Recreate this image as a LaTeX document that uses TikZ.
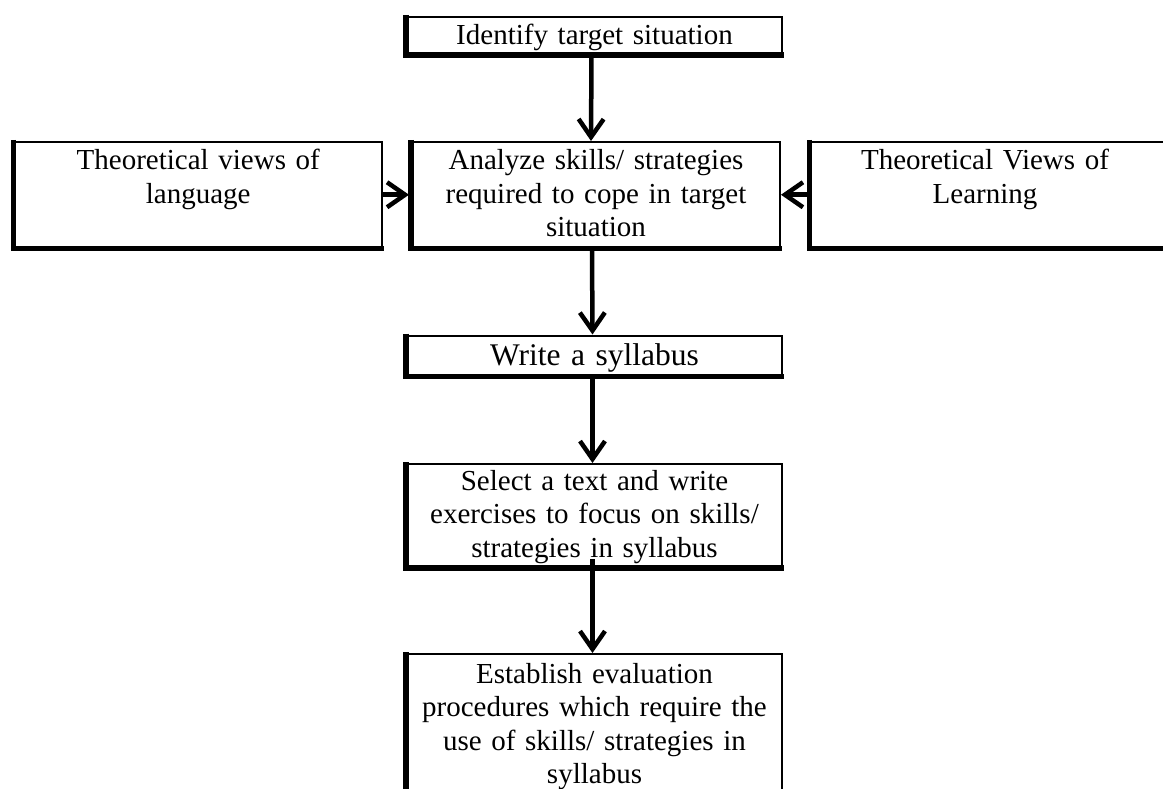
\documentclass[tikz,border=0pt]{standalone}
\usepackage{fontspec}
\setmainfont{Liberation Serif}
\usetikzlibrary{arrows.meta}
\begin{document}
\begin{tikzpicture}[x=1pt,y=-1pt,
  box/.style={draw, line width=2pt, inner sep=0pt, fill=none},
  thickedge/.style={line width=5.5pt, line cap=butt},
  txt/.style={inner sep=0pt, anchor=base, align=center, text width=360pt, font=\fontsize{29}{33.5}\selectfont},
  flow/.style={line width=4.5pt, -{Straight Barb[length=18pt,width=25pt,line join=miter]}}
]
\useasboundingbox (0,0) rectangle (1163,789);
\clip (0,0) rectangle (1163,789);
\fill[white] (0,0) rectangle (1163,789);

% boxes (edge midlines)
\node[box, minimum width=375pt, minimum height=37pt] (b1) at (594.5,35.5) {};
\node[box, minimum width=368pt, minimum height=105.5pt] (b2) at (596,194.75) {};
\node[box, minimum width=367.5pt, minimum height=105.5pt] (bl) at (198.25,194.75) {};
\node[box, minimum width=380pt, minimum height=105.5pt] (br) at (1000.5,194.75) {};
\node[box, minimum width=375pt, minimum height=40pt] (b3) at (594.5,355.5) {};
\node[box, minimum width=375pt, minimum height=103pt] (b4) at (594.5,515.5) {};
\node[box, minimum width=375pt, minimum height=200pt] (b5) at (594.5,754) {};

% thick left and bottom edges
\foreach \b in {b1,b2,bl,br,b3,b4,b5}{
  \draw[thickedge] ([yshift=1pt]\b.north west) -- (\b.south west) -- ([xshift=1pt]\b.south east);
}

% texts
\node[txt] (t1) at (594.5,45) {Identify target situation};
\node[txt] (t2) at (596,170) {Analyze skills/ strategies\\required to cope in target\\situation};
\node[txt] (tl) at (198.25,170) {Theoretical views of\\language};
\node[txt] (tr) at (985,170) {Theoretical Views of\\Learning};
\node[txt, font=\fontsize{31.5}{36}\selectfont] (t3) at (594.5,365) {Write a syllabus};
\node[txt] (t4) at (594.5,490) {Select a text and write\\exercises to focus on skills/\\strategies in syllabus};
\node[txt] (t5) at (594.5,683) {Establish evaluation\\procedures which require the\\use of skills/ strategies in\\syllabus};

% connectors
\draw[flow] ([xshift=-3pt]b1.south) -- ([xshift=-5pt]b2.north);
\draw[flow] (bl.east) -- ([xshift=-2pt]b2.west);
\draw[flow] ([xshift=-2pt]br.west) -- (b2.east);
\draw[flow] ([xshift=-4pt]b2.south) -- ([xshift=-2pt]b3.north);
\draw[flow] ([xshift=-2pt]b3.south) -- ([xshift=-2pt]b4.north);
\draw[flow] ([xshift=-2pt,yshift=9pt]b4.south) -- ([xshift=-2pt]b5.north);
\end{tikzpicture}
\end{document}
